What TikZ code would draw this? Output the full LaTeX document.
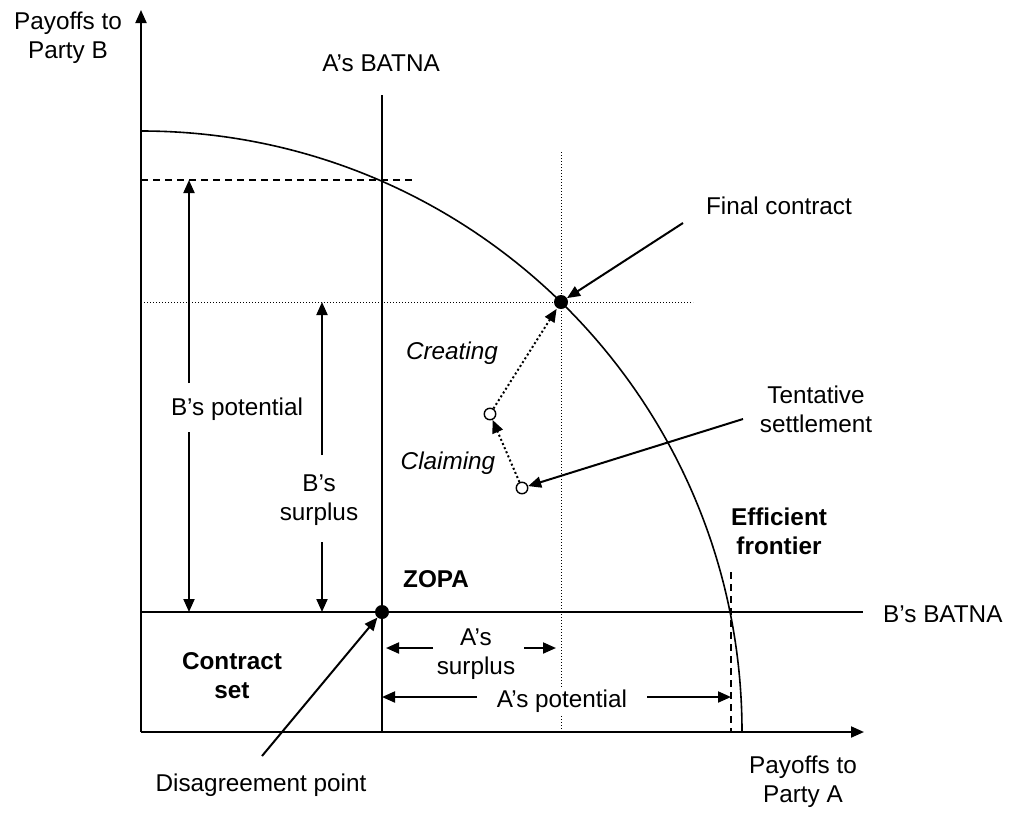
\documentclass[tikz,border=0pt]{standalone}
\usepackage{fontspec}
\setmainfont{Liberation Sans}
\usetikzlibrary{arrows.meta}

\begin{document}
\begin{tikzpicture}[x=1pt,y=-1pt,
  lbl/.style={font=\fontsize{24.3}{29}\selectfont, inner sep=0pt, align=center},
  blbl/.style={lbl, font=\fontsize{24.3}{29}\selectfont\bfseries},
  ilbl/.style={lbl, font=\fontsize{24.3}{29}\selectfont\itshape},
  tip/.style={-{Triangle[length=13pt,width=11pt]}},
  axis/.style={line width=2pt, tip},
  arr/.style={line width=2pt, tip},
  rule/.style={line width=1.5pt},
  frontier/.style={line width=1.6pt},
  dashedrule/.style={line width=1.5pt, dash pattern=on 7pt off 5pt},
  dottedrule/.style={line width=1pt, dash pattern=on 1pt off 2pt},
  dotarrow/.style={line width=2pt, dash pattern=on 2pt off 2.5pt, tip},
  dot/.style={circle, fill=black, inner sep=0pt, minimum size=14pt},
  odot/.style={circle, draw=black, fill=white, line width=1.4pt, inner sep=0pt, minimum size=11.5pt}
]
\useasboundingbox (0,0) rectangle (1015,812);

% axes
\coordinate (O) at (141,732);
\coordinate (xEnd) at (864,732);
\coordinate (yEnd) at (141,10);
\draw[axis] (O) -- (xEnd);
\draw[axis] (O) -- (yEnd);

% efficient frontier: quarter circle about the origin
\coordinate (fTop) at (141,131);
\draw[frontier] (fTop) arc[start angle=90, end angle=0, radius=601pt];

% BATNA lines
\coordinate (aBatTop) at (382,95);
\coordinate (aBatBot) at (382,732);
\draw[rule] (aBatTop) -- (aBatBot);
\coordinate (bBatL) at (141,612);
\coordinate (bBatR) at (863,612);
\draw[rule] (bBatL) -- (bBatR);

% potential limits (dashed)
\coordinate (bPotL) at (141,180);
\coordinate (bPotR) at (415,180);
\draw[dashedrule] (bPotL) -- (bPotR);
\coordinate (aPotT) at (731,572);
\coordinate (aPotB) at (731,732);
\draw[dashedrule] (aPotT) -- (aPotB);

% final contract guides (dotted)
\coordinate (fcL) at (141,302);
\coordinate (fcR) at (693,302);
\draw[dottedrule] (fcL) -- (fcR);
\coordinate (fcT) at (561,152);
\coordinate (fcB) at (561,732);
\draw[dottedrule] (fcT) -- (fcB);

% points
\node[dot] (dp) at (382,612) {};
\node[dot] (fc) at (561,302) {};
\node[odot] (cr) at (490,414) {};
\node[odot] (ts) at (522,488) {};

% claiming and creating moves
\draw[dotarrow] (ts) -- (cr);
\draw[dotarrow, shorten >=1pt] (cr) -- (fc);

% B's potential
\coordinate (bpTop) at (189,180);
\coordinate (bpBot) at (189,612);
\coordinate (bpU) at (189,383);
\coordinate (bpD) at (189,432);
\draw[arr] (bpU) -- (bpTop);
\draw[arr] (bpD) -- (bpBot);
\node[lbl] (bpLbl) at (237,409) {B’s potential};

% B's surplus
\coordinate (bsTop) at (322,302);
\coordinate (bsBot) at (322,612);
\coordinate (bsU) at (322,455);
\coordinate (bsD) at (322,542);
\draw[arr] (bsU) -- (bsTop);
\draw[arr] (bsD) -- (bsBot);
\node[lbl] (bsLbl) at (319,500) {B’s\\surplus};

% A's surplus
\coordinate (asL) at (386,648);
\coordinate (asR) at (556,648);
\coordinate (asLi) at (433,648);
\coordinate (asRi) at (524,648);
\draw[arr] (asLi) -- (asL);
\draw[arr] (asRi) -- (asR);
\node[lbl] (asLbl) at (476,654) {A’s\\surplus};

% A's potential
\coordinate (apL) at (382,697);
\coordinate (apR) at (731,697);
\coordinate (apLi) at (477,697);
\coordinate (apRi) at (647,697);
\draw[arr] (apLi) -- (apL);
\draw[arr] (apRi) -- (apR);
\node[lbl, fill=white, inner sep=2pt] (apLbl) at (562,701) {A’s potential};

% pointer labels
\node[lbl] (fcLbl) at (779,206) {Final contract};
\coordinate (fcTail) at (683,223);
\draw[arr] (fcTail) -- (fc);

\node[lbl] (tsLbl) at (816,409) {Tentative\\settlement};
\coordinate (tsTail) at (743,419);
\draw[arr] (tsTail) -- (ts);

\node[lbl] (dpLbl) at (261,785) {Disagreement point};
\coordinate (dpTail) at (262,756);
\draw[arr] (dpTail) -- (dp);

% other labels
\node[lbl] (yLbl) at (68,38) {Payoffs to\\Party B};
\node[lbl] (xLbl) at (803,782) {Payoffs to\\Party A};
\node[lbl] (aBatLbl) at (381,63) {A’s BATNA};
\node[lbl, anchor=west] (bBatLbl) at (883,614) {B’s BATNA};
\node[ilbl] (crLbl) at (452,353) {Creating};
\node[ilbl] (clLbl) at (448,463) {Claiming};
\node[blbl] (zopaLbl) at (436,579) {ZOPA};
\node[blbl] (csLbl) at (232,676) {Contract\\set};
\node[blbl] (efLbl) at (779,531) {Efficient\\frontier};
\end{tikzpicture}
\end{document}
